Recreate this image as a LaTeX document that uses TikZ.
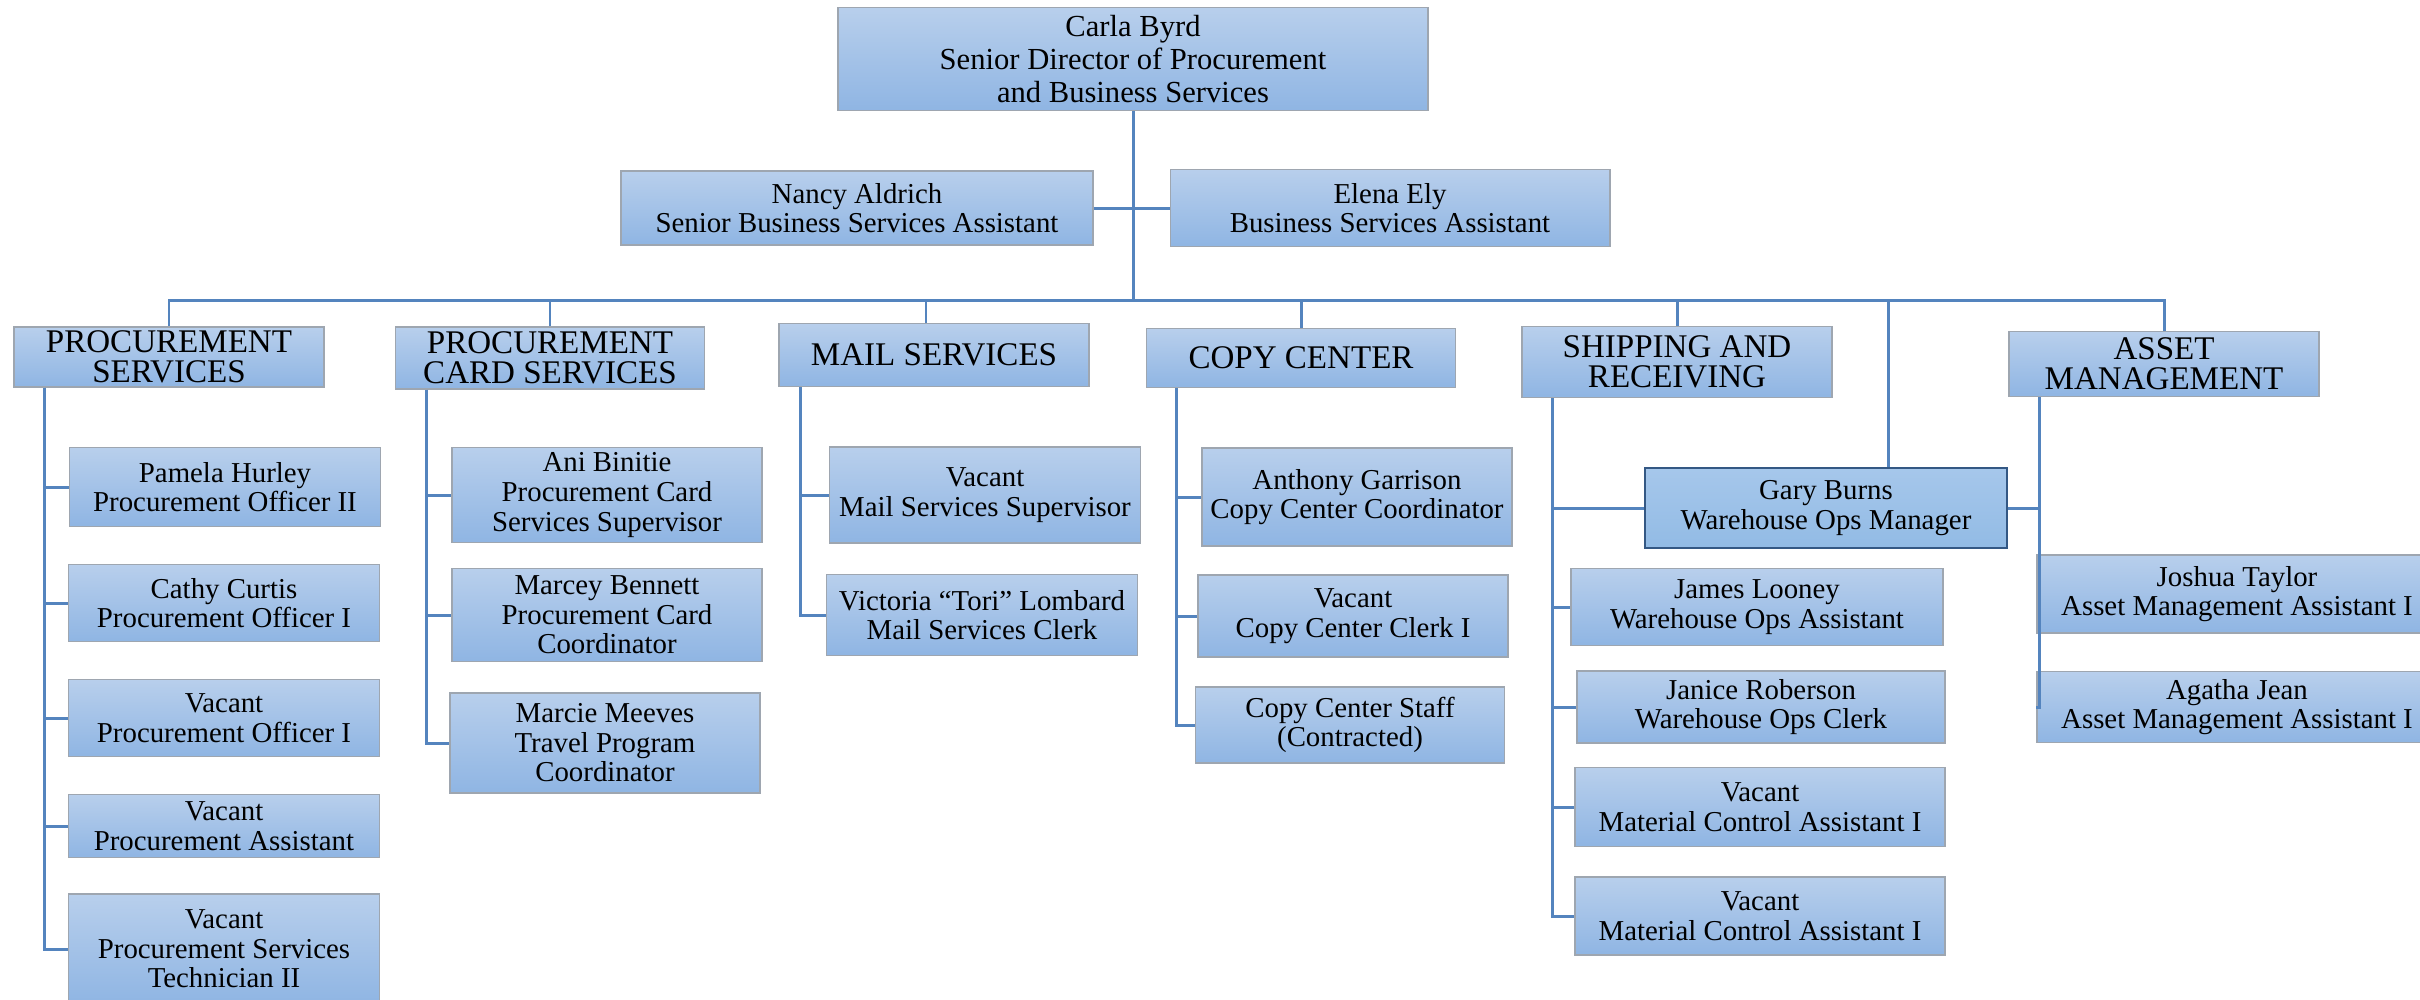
\documentclass[tikz,border=0pt]{standalone}
\usepackage{fontspec}
\setmainfont{Liberation Serif}
\usetikzlibrary{positioning}

\definecolor{boxtop}{RGB}{184,207,236}
\definecolor{boxbot}{RGB}{143,181,227}
\definecolor{boxline}{RGB}{158,166,176}
\definecolor{mgrtop}{RGB}{166,199,235}
\definecolor{mgrbot}{RGB}{146,187,229}
\definecolor{mgrline}{RGB}{52,88,132}
\definecolor{linkblue}{RGB}{84,132,190}

\begin{document}
\begin{tikzpicture}[
    x=0.01cm, y=-0.01cm,
    box/.style={rectangle, draw=boxline, line width=0.5pt, top color=boxtop, bottom color=boxbot, align=center, inner sep=0pt},
    boss/.style={box, font=\fontsize{8.7}{9.4}\selectfont},
    dept/.style={box, font=\fontsize{9.4}{8.6}\selectfont},
    staff/.style={box, font=\fontsize{8.2}{8.4}\selectfont},
    mgr/.style={staff, draw=mgrline, top color=mgrtop, bottom color=mgrbot, line width=0.6pt},
    link/.style={draw=linkblue, line width=0.85pt}
]
\useasboundingbox (0,0) rectangle (2420,999);

% Director and assistants
\node[boss, minimum width=5.9cm, minimum height=1.03cm] (carla) at (1133,59) {Carla Byrd\\Senior Director of Procurement\\and Business Services};
\node[staff, minimum width=4.71cm, minimum height=0.74cm] (nancy) at (857,208) {Nancy Aldrich\\Senior Business Services Assistant};
\node[staff, minimum width=4.39cm, minimum height=0.77cm] (elena) at (1390,208) {Elena Ely\\Business Services Assistant};

% Departments
\node[dept, minimum width=3.1cm, minimum height=0.6cm] (ps) at (169,357) {PROCUREMENT\\SERVICES};
\node[dept, minimum width=3.09cm, minimum height=0.62cm] (pcs) at (550,358) {PROCUREMENT\\CARD SERVICES};
\node[dept, minimum width=3.1cm, minimum height=0.63cm] (ms) at (934,355) {MAIL SERVICES};
\node[dept, minimum width=3.09cm, minimum height=0.59cm] (cc) at (1301,358) {COPY CENTER};
\node[dept, minimum width=3.1cm, minimum height=0.71cm] (sr) at (1677,362) {SHIPPING AND\\RECEIVING};
\node[dept, minimum width=3.1cm, minimum height=0.65cm] (am) at (2164,364) {ASSET\\MANAGEMENT};

% Procurement services
\node[staff, minimum width=3.11cm, minimum height=0.79cm] (pamela) at (225,487) {Pamela Hurley\\Procurement Officer II};
\node[staff, minimum width=3.11cm, minimum height=0.77cm] (cathy) at (224,603) {Cathy Curtis\\Procurement Officer I};
\node[staff, minimum width=3.11cm, minimum height=0.77cm] (psvac1) at (224,718) {Vacant\\Procurement Officer I};
\node[staff, minimum width=3.11cm, minimum height=0.63cm] (psvac2) at (224,826) {Vacant\\Procurement Assistant};
\node[staff, minimum width=3.11cm, minimum height=1.1cm] (pstech) at (224,949) {Vacant\\Procurement Services\\Technician II};

% Procurement card services
\node[staff, minimum width=3.1cm, minimum height=0.95cm] (ani) at (607,495) {Ani Binitie\\Procurement Card\\Services Supervisor};
\node[staff, minimum width=3.1cm, minimum height=0.93cm] (marcey) at (607,615) {Marcey Bennett\\Procurement Card\\Coordinator};
\node[staff, minimum width=3.1cm, minimum height=1.0cm] (marcie) at (605,743) {Marcie Meeves\\Travel Program\\Coordinator};

% Mail services
\node[staff, minimum width=3.11cm, minimum height=0.96cm] (msvac) at (985,495) {Vacant\\Mail Services Supervisor};
\node[staff, minimum width=3.11cm, minimum height=0.81cm] (tori) at (982,615) {Victoria “Tori” Lombard\\Mail Services Clerk};

% Copy center
\node[staff, minimum width=3.1cm, minimum height=0.98cm] (anthony) at (1357,497) {Anthony Garrison\\Copy Center Coordinator};
\node[staff, minimum width=3.1cm, minimum height=0.82cm] (ccvac) at (1353,616) {Vacant\\Copy Center Clerk I};
\node[staff, minimum width=3.09cm, minimum height=0.76cm] (ccstaff) at (1350,725) {Copy Center Staff\\(Contracted)};

% Shipping and receiving
\node[mgr, minimum width=3.61cm, minimum height=0.8cm] (gary) at (1826,508) {Gary Burns\\Warehouse Ops Manager};
\node[staff, minimum width=3.72cm, minimum height=0.77cm] (james) at (1757,607) {James Looney\\Warehouse Ops Assistant};
\node[staff, minimum width=3.68cm, minimum height=0.72cm] (janice) at (1761,707) {Janice Roberson\\Warehouse Ops Clerk};
\node[staff, minimum width=3.7cm, minimum height=0.79cm] (mcavac1) at (1760,807) {Vacant\\Material Control Assistant I};
\node[staff, minimum width=3.7cm, minimum height=0.78cm] (mcavac2) at (1760,916) {Vacant\\Material Control Assistant I};

% Asset management
\node[staff, minimum width=4cm, minimum height=0.78cm] (joshua) at (2237,594) {Joshua Taylor\\Asset Management Assistant I};
\node[staff, minimum width=4cm, minimum height=0.71cm] (agatha) at (2237,707) {Agatha Jean\\Asset Management Assistant I};

% Connections
\coordinate (bus) at (0,300);
\coordinate (gtop) at (1888,300);
\coordinate (amS) at ([xshift=0.31cm]am.south west);

\draw[link] (carla.south) -- (carla.south |- bus);
\draw[link] (nancy.east) -- (elena.west);
\draw[link] (ps.north) -- (ps.north |- bus) -- (am.north |- bus) -- (am.north);
\foreach \d in {pcs, cc, sr}
    \draw[link] (\d.north) -- (\d.north |- bus);
\draw[link] ([xshift=-0.08cm]ms.north) -- ([xshift=-0.08cm]ms.north |- bus);
\draw[link] (gtop) -- (gtop |- gary.north);

\foreach \c in {pamela, cathy, psvac1, psvac2, pstech}
    \draw[link] ([xshift=0.31cm]ps.south west) |- (\c.west);
\foreach \c in {ani, marcey, marcie}
    \draw[link] ([xshift=0.32cm]pcs.south west) |- (\c.west);
\foreach \c in {msvac, tori}
    \draw[link] ([xshift=0.22cm]ms.south west) |- (\c.west);
\foreach \c in {anthony, ccvac, ccstaff}
    \draw[link] ([xshift=0.31cm]cc.south west) |- (\c.west);
\foreach \c in {gary, james, janice, mcavac1, mcavac2}
    \draw[link] ([xshift=0.31cm]sr.south west) |- (\c.west);
\draw[link] (gary.east) -- (gary.east -| amS);
\draw[link] (amS) |- (agatha.west);

\end{tikzpicture}
\end{document}
